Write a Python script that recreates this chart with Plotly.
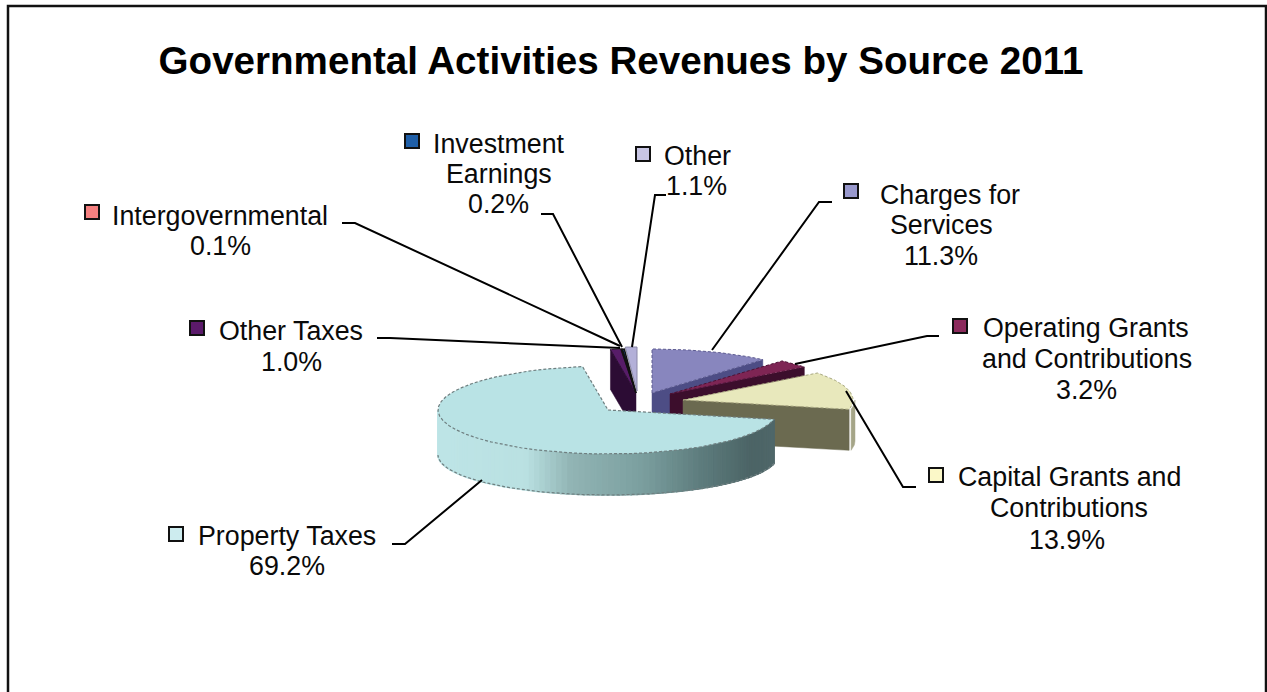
import numpy as np
import plotly.graph_objects as go

# Revenue sources in clockwise order from twelve o'clock, shares in percent
sources = ["Charges for Services", "Operating Grants and Contributions",
           "Capital Grants and Contributions", "Property Taxes", "Other Taxes",
           "Intergovernmental", "Investment Earnings", "Other"]
shares = [11.3, 3.2, 13.9, 69.2, 1.0, 0.1, 0.2, 1.1]

title_text = "Governmental Activities Revenues by Source 2011"

# Text lines of each data label
label_lines = {
    "Charges for Services": ["Charges for", "Services", "11.3%"],
    "Operating Grants and Contributions": ["Operating Grants", "and Contributions", "3.2%"],
    "Capital Grants and Contributions": ["Capital Grants and", "Contributions", "13.9%"],
    "Property Taxes": ["Property Taxes", "69.2%"],
    "Other Taxes": ["Other Taxes", "1.0%"],
    "Intergovernmental": ["Intergovernmental", "0.1%"],
    "Investment Earnings": ["Investment", "Earnings", "0.2%"],
    "Other": ["Other", "1.1%"],
}

# --- drawing setup, in pixel units of the plot area ---
RX, RY = 170, 44
apex = {
    "Charges for Services": (652, 393, 44),
    "Operating Grants and Contributions": (670, 394, 44),
    "Capital Grants and Contributions": (683, 400, 41),
    "Property Taxes": (608, 410, 45),
    "Other Taxes": (636, 393, 40),
    "Intergovernmental": (636, 393, 40),
    "Investment Earnings": (636, 393, 40),
    "Other": (637, 391, 40),
}
top_color = {
    "Charges for Services": "#8886BE",
    "Operating Grants and Contributions": "#7E2554",
    "Capital Grants and Contributions": "#E8E8BC",
    "Property Taxes": "#B9E3E5",
    "Other Taxes": "#571C68",
    "Intergovernmental": "#F47F7F",
    "Investment Earnings": "#1F5FA8",
    "Other": "#B3B0D8",
}
face_color = {
    "Charges for Services": "#4D4D85",
    "Operating Grants and Contributions": "#3C0E2C",
    "Capital Grants and Contributions": "#6B6A50",
    "Other Taxes": "#2C0C34",
}
key_color = {
    "Charges for Services": "#9898CC",
    "Operating Grants and Contributions": "#8B2A5C",
    "Capital Grants and Contributions": "#FBF8C8",
    "Property Taxes": "#CDECEF",
    "Other Taxes": "#5B1A6B",
    "Intergovernmental": "#F47F7F",
    "Investment Earnings": "#1F5FA8",
    "Other": "#C8C6E4",
}
key_pos = {
    "Charges for Services": (851, 191),
    "Operating Grants and Contributions": (960, 326),
    "Capital Grants and Contributions": (936, 475),
    "Property Taxes": (176, 534),
    "Other Taxes": (197, 328),
    "Intergovernmental": (92, 212),
    "Investment Earnings": (412, 141),
    "Other": (643, 154),
}
# (x centre, y centre) of each text line
line_pos = {
    "Charges for Services": [(950, 195), (941, 225), (941, 256)],
    "Operating Grants and Contributions": [(1086, 328), (1087, 359), (1086, 390)],
    "Capital Grants and Contributions": [(1069, 477), (1069, 508), (1067, 540)],
    "Property Taxes": [(287, 536), (287, 566)],
    "Other Taxes": [(291, 331), (291, 362)],
    "Intergovernmental": [(220, 216), (220, 246)],
    "Investment Earnings": [(499, 144), (499, 174), (498, 204)],
    "Other": [(697, 156), (696, 186)],
}
leaders = {
    "Charges for Services": [(832, 202), (819, 202), (712, 350)],
    "Operating Grants and Contributions": [(939, 336), (927, 336), (795, 364)],
    "Capital Grants and Contributions": [(916, 487), (903, 487), (846, 391)],
    "Property Taxes": [(392, 544), (405, 544), (482, 480)],
    "Other Taxes": [(377, 338), (390, 338), (620, 348)],
    "Intergovernmental": [(342, 223), (355, 223), (620, 346)],
    "Investment Earnings": [(541, 214), (553, 214), (622, 347)],
    "Other": [(666, 195), (655, 195), (632, 347)],
}

# Slice boundaries in degrees, clockwise from the top
ends = np.cumsum(shares) / np.sum(shares) * 360
starts = np.concatenate([[0], ends[:-1]])
span = {n: (a, b) for n, a, b in zip(sources, starts, ends)}


def rim(name, a, b, n=40, ry=RY, dy=0):
    """Points on a slice's elliptical rim between two angles."""
    cx, cy, _ = apex[name]
    t = np.radians(np.linspace(a, b, n))
    return cx + RX * np.sin(t), cy + dy - ry * np.cos(t)


def polygon(fig, xs, ys, fill, line=None, width=1, dash="solid", seam=0.5):
    fig.add_trace(go.Scatter(
        x=list(xs), y=list(ys), mode="lines", fill="toself", fillcolor=fill,
        line=dict(color=line or fill, width=width if line else seam, dash=dash),
        showlegend=False, hoverinfo="skip"))


def cut_face(fig, name, angle, color):
    """Vertical wall along the radius at the given angle."""
    cx, cy, d = apex[name]
    rx, ry = rim(name, angle, angle, 1)
    polygon(fig, [cx, rx[0], rx[0], cx, cx], [cy, ry[0], ry[0] + d, cy + d, cy], color)


def top_face(fig, name, line, width=1, dash="solid"):
    cx, cy, _ = apex[name]
    xs, ys = rim(name, *span[name])
    polygon(fig, [cx, *xs, cx], [cy, *ys, cy], top_color[name], line, width, dash)


def mix(stops, x):
    xp = [s[0] for s in stops]
    rgb = [np.interp(x, xp, [s[1][i] for s in stops]) for i in range(3)]
    return "rgb(%d,%d,%d)" % tuple(rgb)


fig = go.Figure()

# Frame, open along the bottom
fig.add_trace(go.Scatter(x=[8, 8, 1266, 1266], y=[692, 6, 6, 692], mode="lines",
                         line=dict(color="#111111", width=2.5),
                         showlegend=False, hoverinfo="skip"))

EDGE = "#6F7F80"
DOTS = "3px,2px"

# Small back slices
cut_face(fig, "Other Taxes", span["Other Taxes"][0], face_color["Other Taxes"])
top_face(fig, "Other", "#8A88A8")
top_face(fig, "Other Taxes", "#2C0C34")
top_face(fig, "Investment Earnings", "#111111", 1.5)
top_face(fig, "Intergovernmental", "#111111", 1.5)

# Charges, Operating Grants
for name in sources[:2]:
    cut_face(fig, name, span[name][1], face_color[name])
    top_face(fig, name, "#5C5A90" if name == sources[0] else "#4C1234", 1, DOTS)

# Capital Grants: rim sliver, then its cut face and top
name = sources[2]
a, b = span[name]
xs, ys = rim(name, 90, b, 12)
d = apex[name][2]
polygon(fig, [*(xs + 2), *(xs[::-1] + 2), xs[0] + 2], [*ys, *(ys[::-1] + d), ys[0]], "#A5A588")
cut_face(fig, name, b, face_color[name])
top_face(fig, name, "#A8A880", 1, DOTS)

# Property Taxes: shaded front rim built from narrow strips; the lower rim is a
# slightly flatter ellipse, so the wall is taller at the sides than at the front
name = sources[3]
a, b = span[name]
d = apex[name][2]
LOWER_RY = 40
shade = [(437, (190, 229, 231)), (525, (186, 225, 226)), (570, (146, 181, 181)),
         (640, (124, 160, 160)), (700, (94, 125, 126)), (750, (76, 100, 102)),
         (776, (80, 104, 106))]
grid = np.linspace(a, 270, 85)
for t0, t1 in zip(grid[:-1], grid[1:]):
    sx, sy = rim(name, t0, t1, 3)
    bx, by = rim(name, t0, t1, 3, LOWER_RY, d)
    colour = mix(shade, sx.mean())
    polygon(fig, [*sx, *bx[::-1], sx[0]], [*sy, *by[::-1], sy[0]], colour, seam=1.6)
bx, by = rim(name, a, 270, 80, LOWER_RY, d)
fig.add_trace(go.Scatter(x=bx, y=by, mode="lines",
                         line=dict(color=EDGE, width=1.2, dash=DOTS),
                         showlegend=False, hoverinfo="skip"))
top_face(fig, name, EDGE, 1.2, DOTS)

# Leader lines
for name in sources:
    pts = leaders[name]
    fig.add_trace(go.Scatter(x=[p[0] for p in pts], y=[p[1] for p in pts], mode="lines",
                             line=dict(color="#000000", width=2),
                             showlegend=False, hoverinfo="skip"))

# Legend keys inside the data labels
for name in sources:
    kx, ky = key_pos[name]
    fig.add_trace(go.Scatter(x=[kx], y=[ky], mode="markers",
                             marker=dict(symbol="square", size=14, color=key_color[name],
                                         line=dict(color="#111111", width=2)),
                             showlegend=False, hoverinfo="skip"))

# Data label text, one annotation per line
notes = []
for name in sources:
    for text, (lx, ly) in zip(label_lines[name], line_pos[name]):
        notes.append(dict(x=lx, y=ly, xref="x", yref="y", text=text, showarrow=False,
                          xanchor="center", yanchor="middle",
                          font=dict(family="Liberation Sans", size=26.8, color="#0A0A0A")))

fig.update_layout(
    width=1267, height=692, autosize=False,
    margin=dict(l=0, r=0, t=0, b=0),
    paper_bgcolor="white", plot_bgcolor="white",
    showlegend=False,
    title=dict(text="<b>%s</b>" % title_text, x=621 / 1267, y=1 - 60 / 692,
               xanchor="center", yanchor="middle",
               font=dict(family="Liberation Sans", size=38.6, color="#000000")),
    xaxis=dict(range=[0, 1267], visible=False, fixedrange=True),
    yaxis=dict(range=[692, 0], visible=False, fixedrange=True),
    annotations=notes,
)

fig.write_html("out.html", config={"displayModeBar": False})
